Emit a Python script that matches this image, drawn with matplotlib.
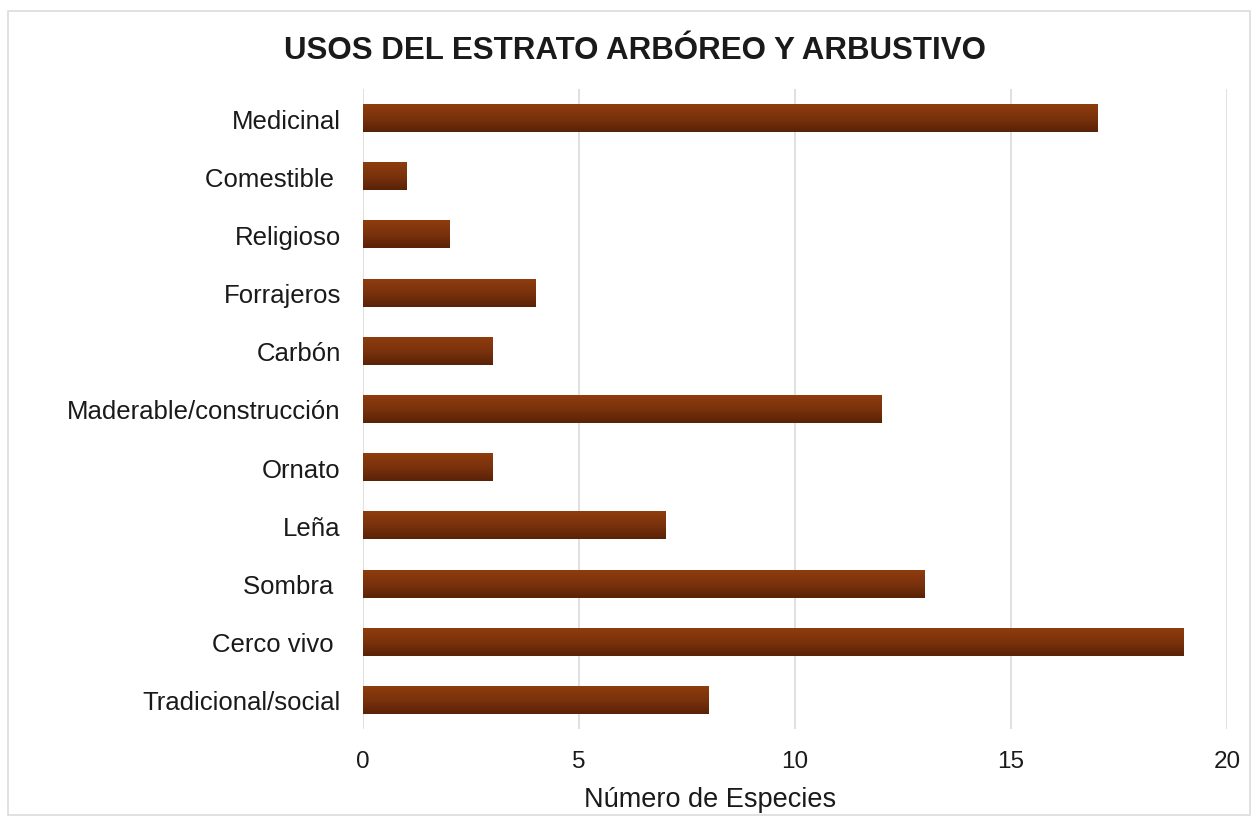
import numpy as np
import matplotlib
matplotlib.use("Agg")
import matplotlib.pyplot as plt
from matplotlib.colors import LinearSegmentedColormap
from matplotlib.patches import Rectangle

plt.rcParams['font.family'] = ['Liberation Sans', 'DejaVu Sans']

categories = ["Medicinal", "Comestible ", "Religioso", "Forrajeros", "Carbón",
              "Maderable/construcción", "Ornato", "Leña", "Sombra ", "Cerco vivo ",
              "Tradicional/social"]
values = [17, 1, 2, 4, 3, 12, 3, 7, 13, 19, 8]
xticks = [0, 5, 10, 15, 20]

title = "USOS DEL ESTRATO ARBÓREO Y ARBUSTIVO"
xlabel = "Número de Especies"

W, H = 1252, 820
fig = plt.figure(figsize=(W / 100, H / 100), dpi=100)
fig.patch.set_facecolor("white")

# light outer frame
fig.patches.append(Rectangle((8 / W, 4 / H), (W - 10) / W, (H - 16) / H,
                             transform=fig.transFigure, fill=False,
                             edgecolor="#dcdcdc", linewidth=1.2))

ax = fig.add_axes([363 / W, 1 - 730 / H, (1227 - 363) / W, (730 - 90) / H])

y = np.arange(len(categories))
bars = ax.barh(y, values, height=0.48, color="#76300c", zorder=2)

# vertical shading on each bar: lighter on top, darker at the bottom
cmap = LinearSegmentedColormap.from_list("brown", ["#8e3c0d", "#7a320c", "#5a2207"])
grad = np.linspace(0, 1, 64).reshape(-1, 1)
for b in bars:
    x0, y0 = b.get_x(), b.get_y()
    w, h = b.get_width(), b.get_height()
    im = ax.imshow(grad, cmap=cmap, aspect="auto", origin="upper",
                   extent=(x0, x0 + w, y0 + h, y0), zorder=3)
    im.set_clip_path(b)

ax.set_ylim(len(categories) - 0.5, -0.5)
ax.set_xlim(0, 20)
ax.set_xticks(xticks)
ax.set_yticks(y)
ax.set_yticklabels(categories, fontsize=18.5, color="#1a1a1a")
ax.tick_params(axis="x", labelsize=17.5, labelcolor="#1a1a1a", length=0, pad=15)
ax.tick_params(axis="y", length=0, pad=16)
ax.grid(axis="x", color="#dadada", linewidth=1.2, zorder=0)
ax.set_axisbelow(True)
for s in ax.spines.values():
    s.set_visible(False)

ax.set_xlabel(xlabel, fontsize=19.5, color="#1a1a1a")
ax.xaxis.set_label_coords((710 - 363) / (1227 - 363), -0.089)
fig.text(635 / W, 1 - 51 / H, title, ha="center", va="center",
         fontsize=22.5, fontweight="bold", color="#1a1a1a")

fig.savefig("out.png", dpi=100, facecolor="white")
